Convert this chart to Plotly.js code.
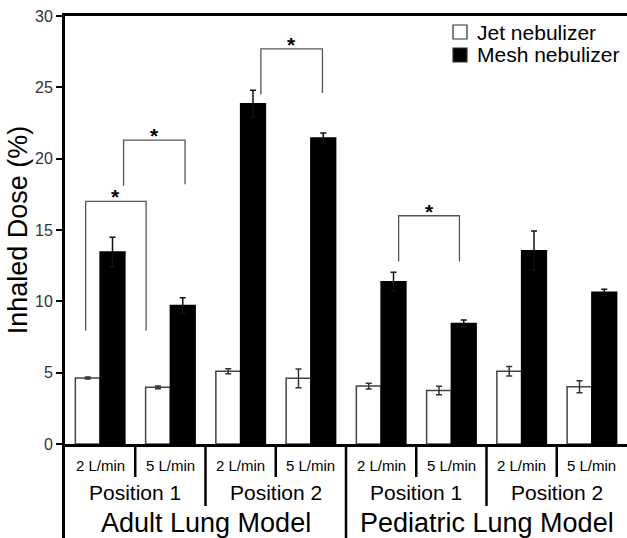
<!DOCTYPE html>
<html><head><meta charset="utf-8">
<script src="https://cdn.plot.ly/plotly-3.0.1.min.js"></script>
<style>html,body{margin:0;padding:0;background:#fff}#chart{width:627px;height:538px}</style>
</head><body><div id="chart"></div>
<script>
const flowLabels = ['2 L/min','5 L/min','2 L/min','5 L/min','2 L/min','5 L/min','2 L/min','5 L/min'];
const positionLabels = ['Position 1','Position 2','Position 1','Position 2'];
const modelLabels = ['Adult Lung Model','Pediatric Lung Model'];
const seriesNames = ['Jet nebulizer','Mesh nebulizer'];
const jetValues  = [4.62, 3.97, 5.10, 4.60, 4.06, 3.75, 5.10, 4.02];
const jetErrors  = [0.07, 0.10, 0.17, 0.66, 0.20, 0.30, 0.33, 0.42];
const meshValues = [13.45, 9.70, 23.85, 21.45, 11.37, 8.45, 13.55, 10.63];
const meshErrors = [1.05, 0.55, 0.95, 0.35, 0.66, 0.24, 1.38, 0.21];
const yTicks = [0, 5, 10, 15, 20, 25, 30];
// significance brackets: [left x, right x, top, left leg end, right leg end] in data units
const brackets = [
  [-0.206, 0.655, 17.0, 7.95, 7.95],
  [0.334, 1.209, 21.3, 18.1, 18.2],
  [2.288, 3.165, 27.7, 24.5, 24.6],
  [4.249, 5.115, 16.0, 12.8, 12.8]
];

const FONT = 'Liberation Sans, Arial, Helvetica, sans-serif';
const xIdx = flowLabels.map((_, i) => i);

const traces = [
  {type:'bar', name:seriesNames[0], x:xIdx, y:jetValues,
   marker:{color:'#ffffff', line:{color:'#444', width:1.5}},
   error_y:{type:'data', array:jetErrors, visible:true, color:'#333', thickness:1.5, width:3},
   showlegend:false, hoverinfo:'skip'},
  {type:'bar', name:seriesNames[1], x:xIdx, y:meshValues,
   marker:{color:'#000000', line:{color:'#000', width:1.5}},
   error_y:{type:'data', array:meshErrors, visible:true, color:'#111', thickness:1.5, width:3},
   showlegend:false, hoverinfo:'skip'}
];

const shapes = [];
const annotations = [];
const L = 65, T = 16, W = 562, H = 428;
const px2x = p => (p - L) / W;
const px2y = p => (T + H - p) / H;

// separators under the axis
[0.5, 2.5, 4.5, 6.5].forEach(x => shapes.push({type:'line', xref:'x', yref:'paper', x0:x, x1:x, y0:0, y1:px2y(477), line:{color:'#000', width:2.5}}));
[1.5, 5.5].forEach(x => shapes.push({type:'line', xref:'x', yref:'paper', x0:x, x1:x, y0:0, y1:px2y(506), line:{color:'#000', width:2.5}}));
shapes.push({type:'line', xref:'x', yref:'paper', x0:3.5, x1:3.5, y0:0, y1:px2y(545), line:{color:'#000', width:2.5}});
// y axis extension down
shapes.push({type:'line', xref:'paper', xsizemode:'pixel', xanchor:0, x0:-1.5, x1:-1.5, yref:'paper', y0:0, y1:px2y(545), line:{color:'#000', width:3}});

// brackets + stars
brackets.forEach(b => {
  shapes.push({type:'path', xref:'x', yref:'y',
    path:`M${b[0]},${b[3]} L${b[0]},${b[2]} L${b[1]},${b[2]} L${b[1]},${b[4]}`,
    line:{color:'#555', width:1.3}});
  annotations.push({xref:'x', yref:'y', x:(b[0]+b[1])/2, y:b[2], text:'<b>*</b>', showarrow:false,
    yanchor:'bottom', yshift:-9, font:{family:FONT, size:21, color:'#000'}});
});

// category labels
flowLabels.forEach((t, i) => annotations.push({xref:'x', yref:'paper', x:i, y:px2y(465), text:t, showarrow:false, yanchor:'middle', font:{family:FONT, size:15, color:'#000'}}));
positionLabels.forEach((t, i) => annotations.push({xref:'x', yref:'paper', x:2*i+0.5, y:px2y(492), text:t, showarrow:false, yanchor:'middle', font:{family:FONT, size:21, color:'#000'}}));
modelLabels.forEach((t, i) => annotations.push({xref:'x', yref:'paper', x:4*i+1.5, y:px2y(523), text:t, showarrow:false, yanchor:'middle', font:{family:FONT, size:27, color:'#000'}}));

// legend
const legendRows = [{name:seriesNames[0], fill:'#ffffff', cy:32}, {name:seriesNames[1], fill:'#000000', cy:55}];
legendRows.forEach(r => {
  shapes.push({type:'rect', xref:'paper', yref:'paper', x0:px2x(453), x1:px2x(467), y0:px2y(r.cy-7), y1:px2y(r.cy+7), fillcolor:r.fill, line:{color:'#333', width:1.2}});
  annotations.push({xref:'paper', yref:'paper', x:px2x(475), y:px2y(r.cy), text:r.name, showarrow:false, xanchor:'left', yanchor:'middle', font:{family:FONT, size:21, color:'#000'}});
});

const layout = {
  width:627, height:538,
  margin:{l:L, r:0, t:T, b:538-T-H, pad:0},
  paper_bgcolor:'#fff', plot_bgcolor:'#fff',
  barmode:'group', bargap:0.295, bargroupgap:0,
  font:{family:FONT, color:'#000'},
  xaxis:{range:[-0.5, 7.5], showline:true, linewidth:3, linecolor:'#000', mirror:true,
         showticklabels:false, ticks:'', showgrid:false, zeroline:false, fixedrange:true},
  yaxis:{range:[0, 30], tickvals:yTicks, ticks:'outside', ticklen:6, tickwidth:2, tickcolor:'#000',
         showline:true, linewidth:3, linecolor:'#000', showgrid:false, zeroline:false, fixedrange:true,
         tickfont:{family:FONT, size:16, color:'#333'},
         title:{text:'Inhaled Dose (%)', font:{family:FONT, size:27, color:'#000'}, standoff:0}},
  shapes:shapes, annotations:annotations, showlegend:false
};
Plotly.newPlot('chart', traces, layout, {displayModeBar:false, staticPlot:true});
</script></body></html>
